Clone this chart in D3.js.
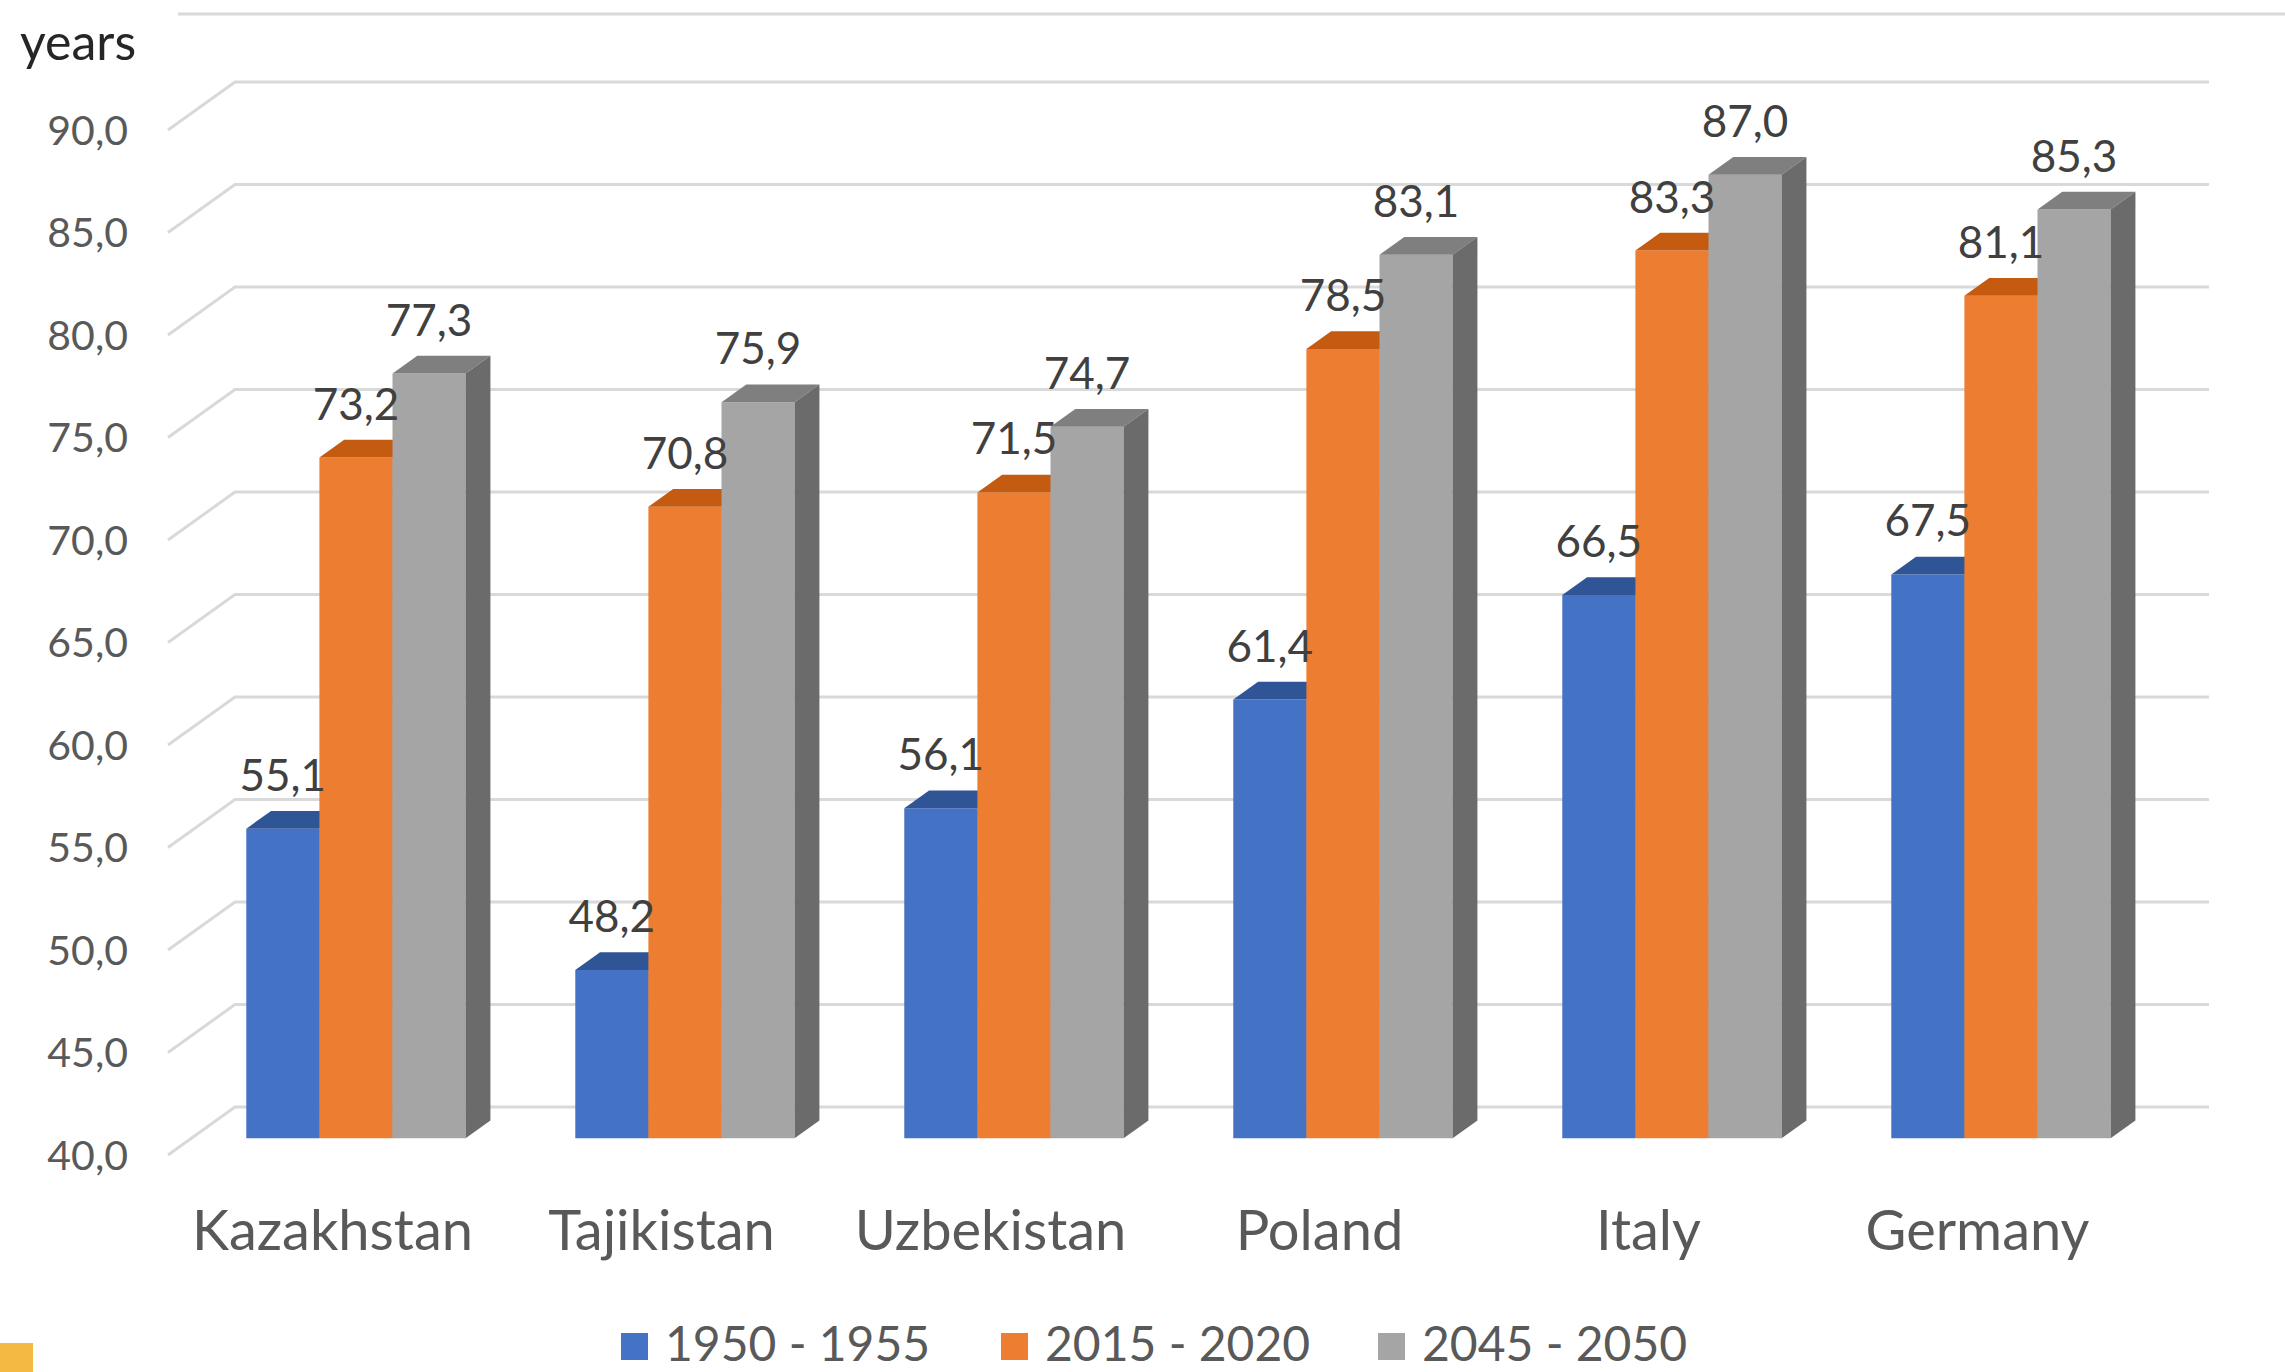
<html>
<head>
<script src="https://d3js.org/d3.v7.min.js" charset="utf-8"></script>
<style>
body { margin: 0; background: white; font-family: "Lato"; }
svg { display: block; }
</style>
</head>
<body>
<div id="canvas"></div>
<script>
// chart values
var countries = ["Kazakhstan", "Tajikistan", "Uzbekistan", "Poland", "Italy", "Germany"];
var periods = ["1950 - 1955", "2015 - 2020", "2045 - 2050"];
var v1950 = [55.1, 48.2, 56.1, 61.4, 66.5, 67.5];
var v2015 = [73.2, 70.8, 71.5, 78.5, 83.3, 81.1];
var v2045 = [77.3, 75.9, 74.7, 83.1, 87.0, 85.3];
var yTicks = [40, 45, 50, 55, 60, 65, 70, 75, 80, 85, 90];

var values = [v1950, v2015, v2045];
var front = ["#4472C4", "#ED7D31", "#A5A5A5"];
var top_ = ["#2F5597", "#C55A11", "#7F7F7F"];
var side = ["#2F528F", "#AE5A21", "#6B6B6B"];

var W = 2285, H = 1372;
var svg = d3.select("#canvas").append("svg").attr("width", W).attr("height", H);

// front plane scales, depth goes up and right
var x = d3.scaleBand().domain(countries).range([168, 2142])
	.paddingInner(1.5 / 4.5).paddingOuter(0.75 / 4.5);
var xs = d3.scaleBand().domain(periods).range([0, x.bandwidth()]);
var y = d3.scaleLinear().domain([40, 90]).range([1155, 130]);
var DX = 67, DY = -48;      // full depth of the floor
var d0 = 0.35, d1 = 0.72;   // depth of the bars

var fmt = d3.formatLocale({decimal: ",", thousands: " ", grouping: [3], currency: ["", ""]}).format(".1f");

// border line at the top
svg.append("line")
	.attr("x1", 178).attr("x2", W).attr("y1", 14).attr("y2", 14)
	.attr("stroke", "#D9D9D9").attr("stroke-width", 3);

// gridlines: side wall diagonal + back wall
var xl = x.range()[0], xr = x.range()[1];
yTicks.forEach(function(t){
	svg.append("polyline")
		.attr("points", [[xl, y(t)], [xl + DX, y(t) + DY], [xr + DX, y(t) + DY]].join(" "))
		.attr("fill", "none")
		.attr("stroke", "#D9D9D9")
		.attr("stroke-width", 3);
});

// y tick labels
svg.append("g").selectAll("text").data(yTicks).enter().append("text")
	.attr("x", 128)
	.attr("y", function(d){ return y(d); })
	.attr("dy", "0.36em")
	.attr("text-anchor", "end")
	.attr("fill", "#595959")
	.attr("font-size", 41)
	.text(function(d){ return fmt(d); });

svg.append("text")
	.attr("x", 20).attr("y", 60)
	.attr("fill", "#262626")
	.attr("font-size", 50)
	.text("years");

// bars
function P(px, py, d){ return [px + d * DX, py + d * DY]; }

countries.forEach(function(c, i){
	periods.forEach(function(p, k){
		var v = values[k][i];
		var xa = x(c) + xs(p), xb = xa + xs.bandwidth();
		var yb = y(40), yt = y(v);
		var g = svg.append("g");
		// front face
		g.append("polygon")
			.attr("points", [P(xa, yb, d0), P(xb, yb, d0), P(xb, yt, d0), P(xa, yt, d0)].join(" "))
			.attr("fill", front[k]);
		// top face
		g.append("polygon")
			.attr("points", [P(xa, yt, d0), P(xb, yt, d0), P(xb, yt, d1), P(xa, yt, d1)].join(" "))
			.attr("fill", top_[k]);
		// right side face
		g.append("polygon")
			.attr("points", [P(xb, yb, d0), P(xb, yb, d1), P(xb, yt, d1), P(xb, yt, d0)].join(" "))
			.attr("fill", side[k]);
	});
});

// data labels
countries.forEach(function(c, i){
	periods.forEach(function(p, k){
		var v = values[k][i];
		var cx = x(c) + xs(p) + xs.bandwidth() / 2 + d0 * DX;
		svg.append("text")
			.attr("x", cx)
			.attr("y", y(v) + d0 * DY - 38)
			.attr("text-anchor", "middle")
			.attr("fill", "#404040")
			.attr("font-size", 44)
			.text(fmt(v));
	});
});

// category labels
svg.append("g").selectAll("text").data(countries).enter().append("text")
	.attr("x", function(d){ return x(d) + x.bandwidth() / 2; })
	.attr("y", 1250)
	.attr("text-anchor", "middle")
	.attr("fill", "#595959")
	.attr("font-size", 56)
	.text(function(d){ return d; });

// legend
var legX = [621, 1001, 1378];
periods.forEach(function(p, k){
	svg.append("rect")
		.attr("x", legX[k]).attr("y", 1333)
		.attr("width", 27).attr("height", 27)
		.attr("fill", front[k]);
	svg.append("text")
		.attr("x", legX[k] + 44).attr("y", 1361)
		.attr("fill", "#595959")
		.attr("font-size", 48)
		.text(p);
});

// yellow corner patch
svg.append("rect").attr("x", 0).attr("y", 1343).attr("width", 33).attr("height", 29).attr("fill", "#F4B942");
</script>
</body>
</html>
